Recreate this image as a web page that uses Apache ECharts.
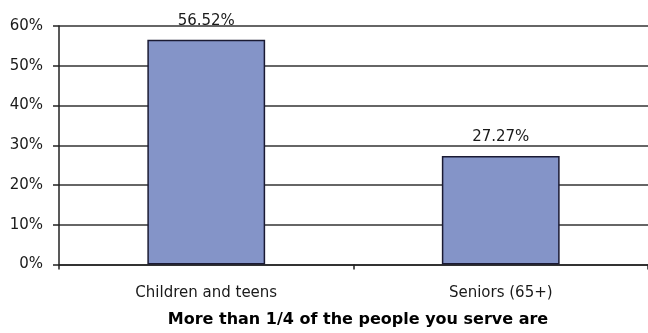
<!DOCTYPE html>
<html>
<head>
<meta charset="utf-8">
<script src="https://cdn.jsdelivr.net/npm/echarts@6/dist/echarts.min.js"></script>
<style>
  html, body { margin: 0; padding: 0; background: #ffffff; }
  #chart { width: 648px; height: 333px; }
</style>
</head>
<body>
<div id="chart"></div>
<script>
// Share of people served, by age group
const categories = ['Children and teens', 'Seniors (65+)'];
const shares = [56.52, 27.27];
const yTicks = [0, 10, 20, 30, 40, 50, 60];
const chartTitle = 'More than 1/4 of the people you serve are';

const fontFamily = '"DejaVu Sans", sans-serif';
const chart = echarts.init(document.getElementById('chart'), null, { renderer: 'canvas' });

chart.setOption({
  animation: false,
  backgroundColor: '#ffffff',
  title: {
    text: chartTitle,
    left: 358,
    textAlign: 'center',
    top: 312,
    padding: 0,
    textStyle: { fontFamily, fontSize: 16, fontWeight: 'bold', color: '#000000' }
  },
  grid: { left: 59, right: -3, top: 26, bottom: 68.5, containLabel: false },
  xAxis: {
    type: 'category',
    data: categories,
    axisLine: { lineStyle: { color: '#222222', width: 1.5 } },
    axisTick: { show: true, length: 5, lineStyle: { color: '#222222', width: 1.5 } },
    axisLabel: { fontFamily, fontSize: 15, color: '#1a1a1a', margin: 21 },
    splitLine: { show: false }
  },
  yAxis: {
    type: 'value',
    min: yTicks[0],
    max: yTicks[yTicks.length - 1],
    interval: 10,
    axisLine: { show: true, lineStyle: { color: '#222222', width: 1.5 } },
    axisTick: { show: true, length: 6, lineStyle: { color: '#222222', width: 1.5 } },
    axisLabel: { fontFamily, fontSize: 15, color: '#1a1a1a', margin: 16, formatter: v => v + '%' },
    splitLine: { show: true, lineStyle: { color: '#333333', width: 1.5 } }
  },
  series: [{
    type: 'bar',
    data: shares,
    barWidth: '40%',
    itemStyle: { color: '#8494c8', borderColor: '#1a1a33', borderWidth: 1.5 },
    label: {
      show: true,
      position: 'top',
      distance: 11,
      fontFamily,
      fontSize: 15,
      color: '#1a1a1a',
      formatter: p => p.value.toFixed(2) + '%'
    }
  }]
});
</script>
</body>
</html>
